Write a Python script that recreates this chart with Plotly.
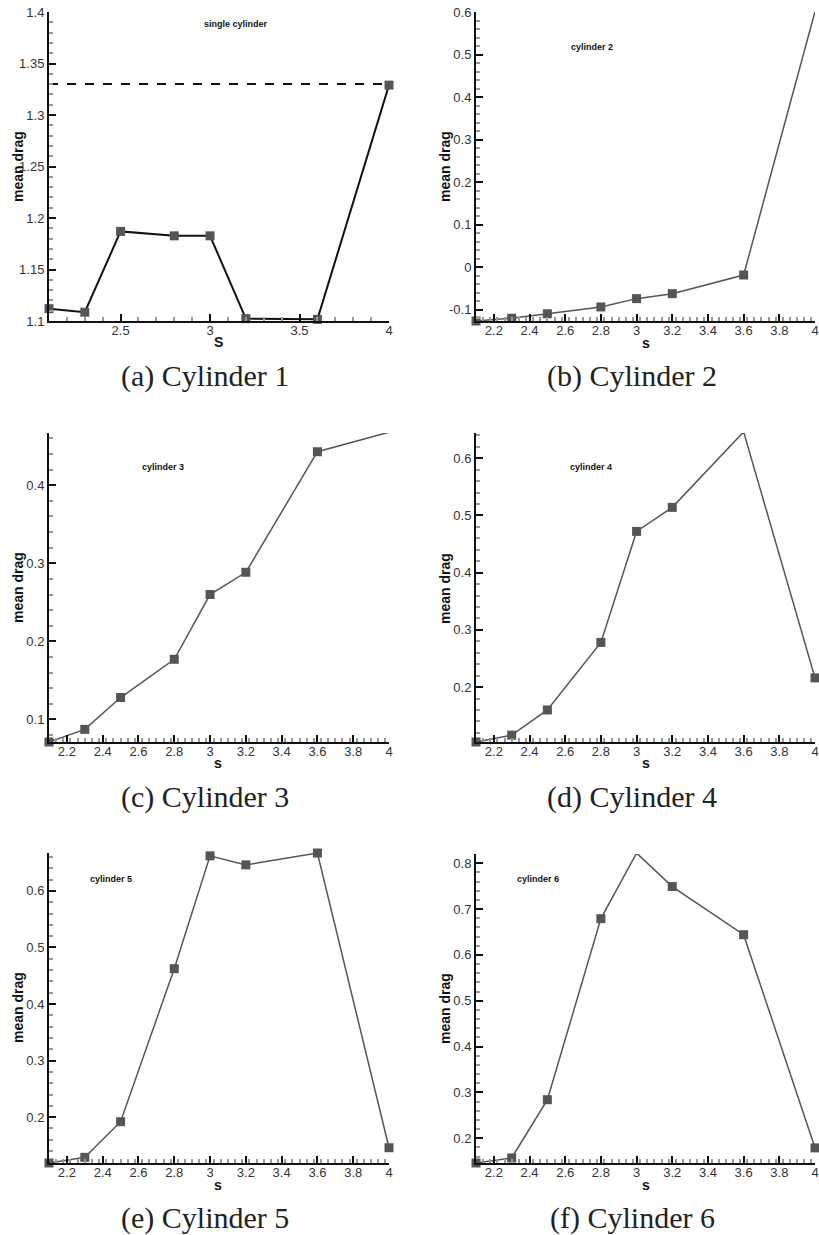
import plotly.graph_objects as go

W, H = 819, 1235

s_values = [2.1, 2.3, 2.5, 2.8, 3.0, 3.2, 3.6, 4.0]
drag_cyl1 = [1.112, 1.1085, 1.187, 1.1827, 1.1827, 1.1023, 1.1016, 1.329]
drag_cyl2 = [-0.127, -0.1205, -0.110, -0.094, -0.0744, -0.0627, -0.0188, 0.601]
drag_cyl3 = [0.071, 0.0872, 0.128, 0.177, 0.260, 0.2885, 0.443, 0.468]
drag_cyl4 = [0.104, 0.116, 0.160, 0.278, 0.472, 0.514, 0.646, 0.216]
drag_cyl5 = [0.119, 0.129, 0.192, 0.4625, 0.662, 0.646, 0.667, 0.146]
drag_cyl6 = [0.146, 0.157, 0.284, 0.679, 0.822, 0.749, 0.644, 0.179]
single_cylinder_ref = 1.33

panel_names = ["single cylinder", "cylinder 2", "cylinder 3", "cylinder 4", "cylinder 5", "cylinder 6"]
captions = ["(a) Cylinder 1", "(b) Cylinder 2", "(c) Cylinder 3",
            "(d) Cylinder 4", "(e) Cylinder 5", "(f) Cylinder 6"]
x_titles = ["S", "s", "s", "s", "s", "s"]

y_ranges = [[1.1, 1.4], [-0.127, 0.6], [0.071, 0.467], [0.104, 0.644], [0.119, 0.667], [0.146, 0.82]]
y_tickvals = [
    [1.1, 1.15, 1.2, 1.25, 1.3, 1.35, 1.4],
    [-0.1, 0, 0.1, 0.2, 0.3, 0.4, 0.5, 0.6],
    [0.1, 0.2, 0.3, 0.4],
    [0.2, 0.3, 0.4, 0.5, 0.6],
    [0.2, 0.3, 0.4, 0.5, 0.6],
    [0.2, 0.3, 0.4, 0.5, 0.6, 0.7, 0.8],
]
y_ticktext = [
    ["1.1", "1.15", "1.2", "1.25", "1.3", "1.35", "1.4"],
    ["-0.1", "0", "0.1", "0.2", "0.3", "0.4", "0.5", "0.6"],
    ["0.1", "0.2", "0.3", "0.4"],
    ["0.2", "0.3", "0.4", "0.5", "0.6"],
    ["0.2", "0.3", "0.4", "0.5", "0.6"],
    ["0.2", "0.3", "0.4", "0.5", "0.6", "0.7", "0.8"],
]
x_tickvals_a = [2.5, 3, 3.5, 4]
x_ticktext_a = ["2.5", "3", "3.5", "4"]
x_tickvals_b = [2.2, 2.4, 2.6, 2.8, 3.0, 3.2, 3.4, 3.6, 3.8, 4.0]
x_ticktext_b = ["2.2", "2.4", "2.6", "2.8", "3", "3.2", "3.4", "3.6", "3.8", "4"]

series = [drag_cyl1, drag_cyl2, drag_cyl3, drag_cyl4, drag_cyl5, drag_cyl6]

# pixel layout of plot areas (left, right, top, bottom)
boxes = [
    (49, 389, 12, 321), (476, 815, 12, 321),
    (49, 389, 433, 742), (476, 815, 433, 742),
    (49, 389, 853, 1163), (476, 815, 854, 1163),
]

def px(x):
    return x / W

def py(y):
    return 1 - y / H

fig = go.Figure()
annotations = []
label_pos = [(236, 24), (592, 47), (163, 467), (591, 467), (111, 879), (538, 879)]
ytitle_pos = [(18, 167), (445, 166), (18, 588), (445, 588), (18, 1008), (445, 1008)]
xtitle_pos = [(218, 342), (646, 343), (218, 763), (646, 763), (218, 1185), (646, 1185)]
caption_pos = [(205, 376), (632, 376), (205, 797), (632, 797), (205, 1218), (632, 1218)]

for i in range(6):
    n = "" if i == 0 else str(i + 1)
    xa, ya = "x" + n, "y" + n
    l, r, t, b = boxes[i]
    line_col = "#111111" if i == 0 else "#555555"
    line_w = 2 if i == 0 else 1.5
    if i == 0:
        fig.add_trace(go.Scatter(x=[s_values[0], s_values[-1]],
                                 y=[single_cylinder_ref, single_cylinder_ref],
                                 mode="lines", line=dict(color="#111111", width=2, dash="dash"),
                                 xaxis=xa, yaxis=ya, showlegend=False, cliponaxis=False))
    fig.add_trace(go.Scatter(x=s_values, y=series[i], mode="lines+markers",
                             line=dict(color=line_col, width=line_w),
                             marker=dict(symbol="square", size=9, color="#555555"),
                             xaxis=xa, yaxis=ya, showlegend=False, cliponaxis=False))
    if i == 0:
        xt, xtt, minor_dx = x_tickvals_a, x_ticktext_a, 0.1
    else:
        xt, xtt, minor_dx = x_tickvals_b, x_ticktext_b, 0.04
    tickfont = dict(family="Liberation Sans, Arial", size=13, color="#333333")
    fig.layout["xaxis" + n] = dict(
        domain=[px(l), px(r)], anchor=ya, range=[2.1, 4.0], automargin=False,
        tickmode="array", tickvals=xt, ticktext=xtt,
        ticks="inside", ticklen=7, tickwidth=2, tickcolor="#111111",
        showline=True, linecolor="#111111", linewidth=2, showgrid=False, zeroline=False,
        tickfont=tickfont, ticklabelstandoff=-4,
        minor=dict(ticks="inside", ticklen=4, tickcolor="#999999", dtick=minor_dx, tick0=2.1, showgrid=False),
    )
    ydt = 0.01 if i == 0 else 0.02
    fig.layout["yaxis" + n] = dict(
        domain=[py(b), py(t)], anchor=xa, range=y_ranges[i], automargin=False,
        tickmode="array", tickvals=y_tickvals[i], ticktext=y_ticktext[i],
        ticks="inside", ticklen=7, tickwidth=2, tickcolor="#111111",
        showline=True, linecolor="#111111", linewidth=2, showgrid=False, zeroline=False,
        tickfont=tickfont,
        minor=dict(ticks="inside", ticklen=4, tickcolor="#999999", dtick=ydt, tick0=0, showgrid=False),
    )
    common = dict(xref="paper", yref="paper", showarrow=False, xanchor="center", yanchor="middle")
    lx, ly = label_pos[i]
    annotations.append(dict(x=px(lx), y=py(ly), text="<b>" + panel_names[i] + "</b>",
                            font=dict(family="Liberation Sans, Arial", size=9, color="#111111"), **common))
    tx, ty = ytitle_pos[i]
    annotations.append(dict(x=px(tx), y=py(ty), text="<b>mean drag</b>", textangle=-90,
                            font=dict(family="Liberation Sans, Arial", size=14, color="#111111"), **common))
    sx, sy = xtitle_pos[i]
    annotations.append(dict(x=px(sx), y=py(sy), text="<b>" + x_titles[i] + "</b>",
                            font=dict(family="Liberation Sans, Arial", size=14, color="#111111"), **common))
    cx, cy = caption_pos[i]
    annotations.append(dict(x=px(cx), y=py(cy), text=captions[i],
                            font=dict(family="Liberation Serif, DejaVu Serif", size=30, color="#222222"), **common))

fig.update_layout(width=W, height=H, margin=dict(l=0, r=0, t=0, b=0),
                  paper_bgcolor="white", plot_bgcolor="white", annotations=annotations)
fig.write_html("out.html", config={"displayModeBar": False},
               post_script="document.body.style.margin='0';document.body.style.overflow='hidden';")
